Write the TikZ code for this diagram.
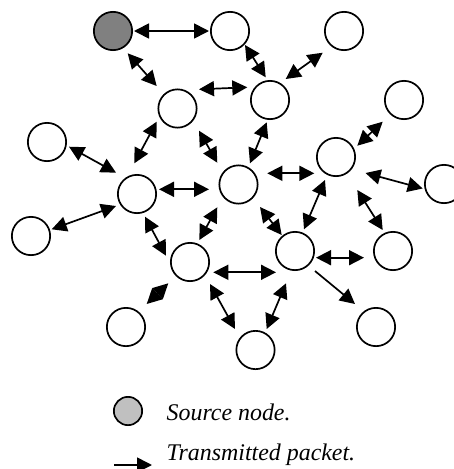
\documentclass[tikz,border=0pt]{standalone}
\usepackage{fontspec}
\setmainfont{Liberation Serif}
\usetikzlibrary{arrows.meta}
\definecolor{srcgray}{HTML}{808080}
\definecolor{leggray}{HTML}{C0C0C0}
\tikzset{
  nd/.style={circle, draw, line width=1.7pt, minimum size=38.3pt, inner sep=0pt, fill=white},
  lnk/.style={line width=1.7pt, {Triangle[length=15pt,width=15pt]}-{Triangle[length=15pt,width=15pt]}},
  one/.style={line width=1.7pt, -{Triangle[length=15pt,width=15pt]}},
  lab/.style={anchor=base west, inner sep=0pt, font=\fontsize{23.9}{26}\selectfont\itshape},
}
\begin{document}
\begin{tikzpicture}[x=1pt,y=-1pt]
\useasboundingbox (0,0) rectangle (454,469);
% nodes
\node[nd, fill=srcgray] (S) at (113,31) {};
\node[nd] (A) at (230,31) {};
\node[nd] (B) at (344,31) {};
\node[nd] (C) at (177.5,108.5) {};
\node[nd] (D) at (270,100) {};
\node[nd] (E) at (404,100) {};
\node[nd] (F) at (47,142) {};
\node[nd] (G) at (336,157) {};
\node[nd] (H) at (137,194) {};
\node[nd] (I) at (238.5,184.5) {};
\node[nd] (J) at (444,184) {};
\node[nd] (K) at (31,236) {};
\node[nd] (L) at (190,262) {};
\node[nd] (M) at (295,251) {};
\node[nd] (N) at (393,251) {};
\node[nd] (O) at (126,327) {};
\node[nd] (P) at (255.5,350) {};
\node[nd] (Q) at (376,327) {};
% links
\draw[lnk] ([shift={(21,0)}]S.center) -- ([shift={(-21,0)}]A.center);
\draw[lnk] ([shift={(14.7,22.3)}]S.center) -- ([shift={(-20.8,-22.5)}]C.center);
\draw[lnk] ([shift={(15,14)}]A.center) -- ([shift={(-4.3,-22.7)}]D.center);
\draw[lnk] ([shift={(-21.3,21.7)}]B.center) -- ([shift={(15.7,-21)}]D.center);
\draw[lnk] ([shift={(21.5,-19.2)}]C.center) -- ([shift={(-22.7,-12.7)}]D.center);
\draw[lnk] ([shift={(-20.8,13.2)}]C.center) -- ([shift={(-2.7,-30.7)}]H.center);
\draw[lnk] ([shift={(21.5,22.2)}]C.center) -- ([shift={(-21.2,-21.8)}]I.center);
\draw[lnk] ([shift={(-3.3,22.3)}]D.center) -- ([shift={(11.5,-21.2)}]I.center);
\draw[lnk] ([shift={(-21.3,21.7)}]E.center) -- ([shift={(21.3,-11.3)}]G.center);
\draw[lnk] ([shift={(22,4.7)}]F.center) -- ([shift={(-21,-21.3)}]H.center);
\draw[lnk] ([shift={(22,-4.7)}]H.center) -- ([shift={(-29.5,4.8)}]I.center);
\draw[lnk] ([shift={(28.8,-11.2)}]I.center) -- ([shift={(-21.7,16.3)}]G.center);
\draw[lnk] ([shift={(29.5,16)}]G.center) -- ([shift={(-21.3,4.5)}]J.center);
\draw[lnk] ([shift={(-21,12)}]H.center) -- ([shift={(20.7,-6.7)}]K.center);
\draw[lnk] ([shift={(-11,23)}]G.center) -- ([shift={(9,-21.7)}]M.center);
\draw[lnk] ([shift={(21.5,22.5)}]I.center) -- ([shift={(-13.3,-16)}]M.center);
\draw[lnk] ([shift={(-21.2,22.8)}]I.center) -- ([shift={(9.3,-22)}]L.center);
\draw[lnk] ([shift={(21.3,33)}]G.center) -- ([shift={(-10.3,-21)}]N.center);
\draw[lnk] ([shift={(8,22.7)}]H.center) -- ([shift={(-24,-6.3)}]L.center);
\draw[lnk] ([shift={(23.3,10.3)}]L.center) -- ([shift={(-19,21.3)}]M.center);
\draw[lnk] ([shift={(21,6.7)}]M.center) -- ([shift={(-29,6.7)}]N.center);
\draw[one] ([shift={(20,20)}]M.center) -- ([shift={(-21,-23)}]Q.center);
\draw[lnk] ([shift={(-21.7,21.3)}]L.center) -- ([shift={(20.7,-23)}]O.center);
\draw[lnk] ([shift={(20,22)}]L.center) -- ([shift={(-20.5,-21)}]P.center);
\draw[lnk] ([shift={(-9,32.3)}]M.center) -- ([shift={(11.2,-21)}]P.center);
% legend
\node[circle, draw, line width=1.7pt, minimum size=28.3pt, inner sep=0pt, fill=leggray] (legsrc) at (128,411) {};
\node[lab] (legsrctxt) at (166.5,420.7) {Source node.};
\coordinate (la) at (114,465);
\coordinate (lb) at (152,465);
\draw[one] (la) -- (lb);
\node[lab] (legpkttxt) at (166.5,460) {Transmitted packet.};
\end{tikzpicture}
\end{document}
